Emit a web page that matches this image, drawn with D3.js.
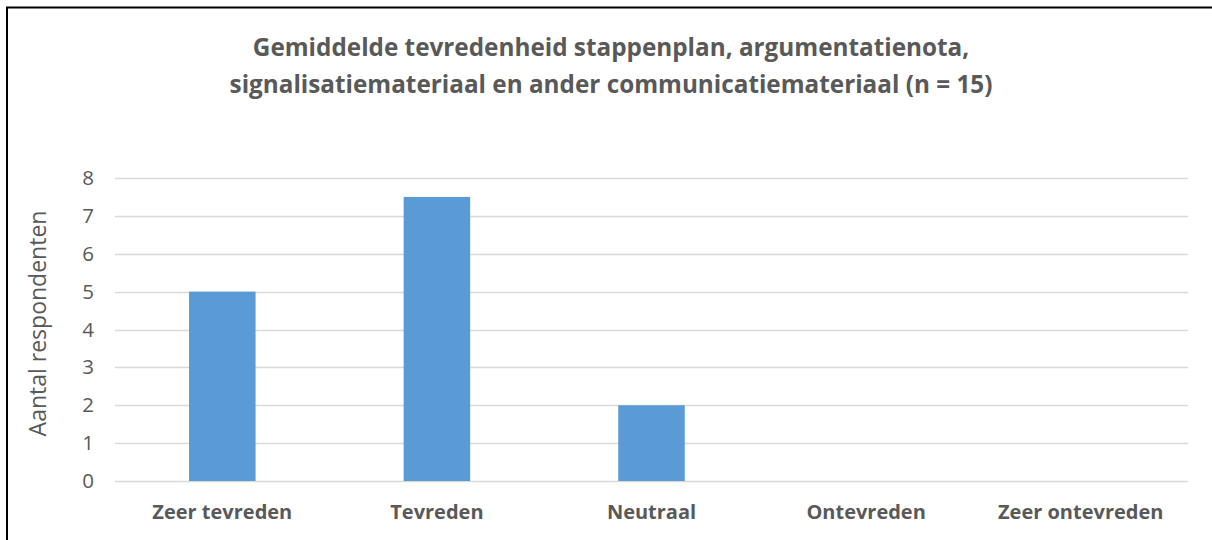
<!DOCTYPE html>
<html>
<head>
<meta charset="utf-8">
<script src="https://cdn.jsdelivr.net/npm/d3@7"></script>
<style>
  body { margin: 0; background: #fff; }
  text { font-family: "Open Sans", sans-serif; }
</style>
</head>
<body>
<svg id="chart"></svg>
<script>
const width = 1212;
const height = 540;

// data
const categories = ['Zeer tevreden', 'Tevreden', 'Neutraal', 'Ontevreden', 'Zeer ontevreden'];
const values = [5, 7.5, 2, 0, 0];
const yTicks = [0, 1, 2, 3, 4, 5, 6, 7, 8];
const titleLines = [
    'Gemiddelde tevredenheid stappenplan, argumentatienota,',
    'signalisatiemateriaal en ander communicatiemateriaal (n = 15)'
];
const yTitle = 'Aantal respondenten';

const margin = { left: 115, right: 24, top: 178, bottom: 59 };

const svg = d3.select('svg#chart').attr('width', width).attr('height', height);

// frame (only left and top edges visible)
svg.append('path')
    .attr('d', 'M7,' + height + ' V7.5 H' + width)
    .attr('fill', 'none')
    .attr('stroke', '#000')
    .attr('stroke-width', 2);

const x = d3.scaleBand()
    .domain(categories)
    .range([margin.left, width - margin.right])
    .paddingInner(0.69)
    .paddingOuter(0.345);

const y = d3.scaleLinear()
    .domain([0, 8])
    .range([height - margin.bottom, margin.top]);

// gridlines
svg.append('g')
    .selectAll('line')
    .data(yTicks)
    .join('line')
    .attr('x1', margin.left)
    .attr('x2', width - margin.right)
    .attr('y1', d => Math.round(y(d)) + 0.5)
    .attr('y2', d => Math.round(y(d)) + 0.5)
    .attr('stroke', '#d9d9d9')
    .attr('stroke-width', 1.5);

// y axis labels
const yAxis = svg.append('g')
    .attr('transform', 'translate(' + (margin.left - 21) + ',0)')
    .call(d3.axisLeft(y).tickValues(yTicks).tickSize(0).tickPadding(0));
yAxis.select('.domain').remove();
yAxis.selectAll('text')
    .attr('fill', '#595959')
    .style('font-size', '20.5px')
    .style('font-family', '"Open Sans", sans-serif');

// bars
svg.append('g')
    .selectAll('rect')
    .data(values)
    .join('rect')
    .attr('x', (d, i) => x(categories[i]))
    .attr('y', d => y(d))
    .attr('width', x.bandwidth())
    .attr('height', d => y(0) - y(d))
    .attr('fill', '#5b9bd5');

// x axis labels
const xAxis = svg.append('g')
    .attr('transform', 'translate(0,' + (y(0) + 24) + ')')
    .call(d3.axisBottom(x).tickSize(0).tickPadding(0));
xAxis.select('.domain').remove();
xAxis.selectAll('text')
    .attr('fill', '#595959')
    .style('font-size', '20px')
    .style('font-weight', 'bold')
    .style('font-family', '"Open Sans", sans-serif');

// title
svg.append('g')
    .selectAll('text')
    .data(titleLines)
    .join('text')
    .attr('x', width / 2 + 5)
    .attr('y', (d, i) => 56 + i * 37)
    .attr('text-anchor', 'middle')
    .attr('fill', '#595959')
    .style('font-size', '24.3px')
    .style('font-weight', 'bold')
    .text(d => d);

// y axis title
svg.append('text')
    .attr('transform', 'translate(46,' + ((y(0) + y(8)) / 2 - 6) + ') rotate(-90)')
    .attr('text-anchor', 'middle')
    .attr('fill', '#595959')
    .style('font-size', '23px')
    .text(yTitle);
</script>
</body>
</html>
